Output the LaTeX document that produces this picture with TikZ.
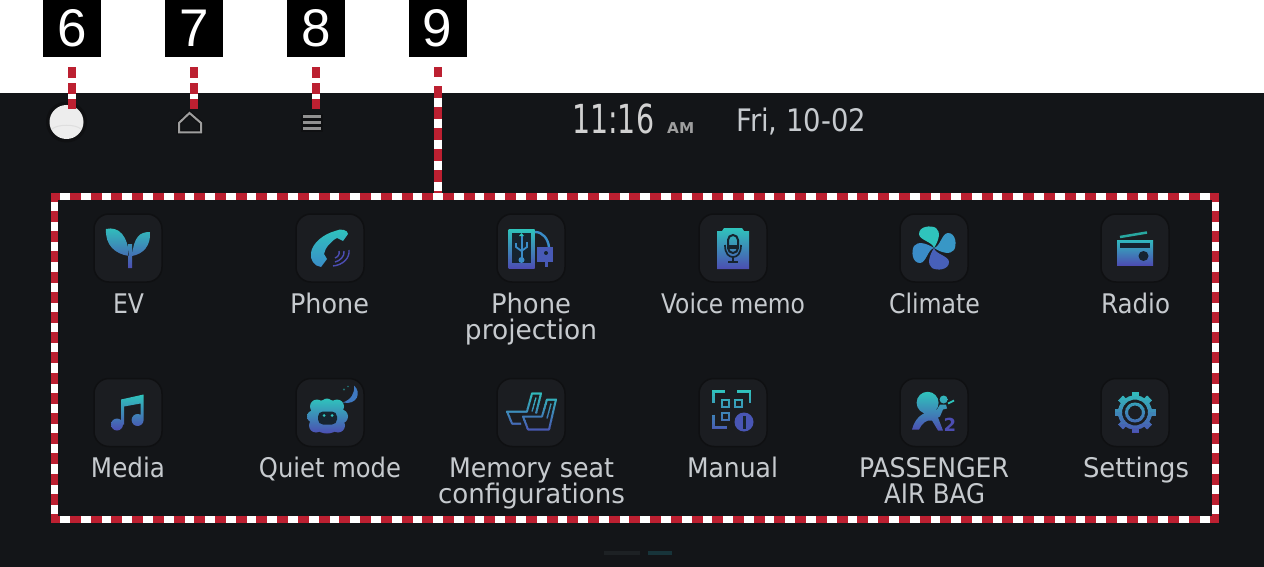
\documentclass[tikz,border=0pt]{standalone}
\usepackage{graphicx}
\usepackage{fontspec}
\setmainfont{DejaVu Sans}
\newfontfamily\numfont{Liberation Sans}
\definecolor{scr}{HTML}{131518}
\definecolor{boxc}{HTML}{1B1D21}
\definecolor{boxe}{HTML}{0F1012}
\definecolor{redc}{HTML}{BC2031}
\definecolor{txt}{HTML}{C6CACE}
\definecolor{icteal}{HTML}{2FC4BC}
\definecolor{icind}{HTML}{4C4DB2}
\definecolor{icmid}{HTML}{3A8CC8}
\definecolor{dk}{HTML}{16242F}
\definecolor{pagera}{HTML}{1D2124}
\definecolor{pagerb}{HTML}{17343A}
\tikzset{
  numbox/.style={fill=black,text=white,inner sep=0pt,minimum width=58pt,minimum height=57pt,font=\numfont\fontsize{53}{53}\selectfont},
  leaderbase/.style={white,line width=8pt,shorten <=10pt},
  leaderred/.style={redc,line width=8pt,shorten <=10pt},
  iconbox/.style={rectangle,rounded corners=15pt,fill=boxc,draw=boxe,line width=1.5pt,minimum width=68pt,minimum height=68pt,inner sep=0pt},
  lab/.style={text=txt,anchor=base,inner sep=0pt,font=\fontsize{27}{27}\selectfont},
  gr/.style={top color=icteal,bottom color=icind,draw=none},
  frameside/.style={redc,line width=7pt},
}
\newcommand{\lbl}[5]{\node[lab] (#1) at (#2,#3) {\resizebox{#4pt}{\height}{#5}};}
\newcommand{\gradstroke}[1]{\foreach \gi in {0,...,11}{\pgfmathtruncatemacro{\gp}{100-\gi*9}\colorlet{gc}{icteal!\gp!icind}\begin{scope}\clip (-42,{-24+\gi*4}) rectangle (42,{-24+\gi*4+4.3});#1\end{scope}}}
\newcommand{\fanblade}{(0,0) .. controls (-1,-6) and (-15,-8) .. (-15,-14) .. controls (-15,-22) and (-3,-23) .. (2,-20) .. controls (7,-16) and (5,-8) .. (0,0) -- cycle}
\begin{document}
\begin{tikzpicture}[x=1pt,y=-1pt]
\useasboundingbox (0,0) rectangle (1264,567);
\fill[white] (0,0) rectangle (1264,567);
\fill[scr] (0,93) rectangle (1264,567);

% top bar
\node[circle,fill=boxe,draw=none,minimum size=41pt,inner sep=0pt] (i6) at (66.5,122) {};
\node[circle,fill=white!93!black,minimum size=34pt,inner sep=0pt] (i6b) at (66.5,122) {};
\draw[white!87!black,line width=1pt] (52,129) .. controls (58,124) and (75,124) .. (81,129);
\draw[boxe,line width=4.5pt,line join=miter] (189.5,113) -- (201,123) -- (201,132.5) -- (179,132.5) -- (179,123) -- cycle;
\draw[white!62!black,line width=2pt] (189.5,113) -- (201,123) -- (201,132.5) -- (179,132.5) -- (179,123) -- cycle;
\coordinate (i7) at (194,109);
\fill[boxe] (301,114) rectangle (323,132);
\foreach \yy in {116.5,122.5,128.5}{\draw[white!57!black,line width=3pt] (303,\yy) -- (321,\yy);}
\coordinate (i8) at (316,109);
\coordinate (p6) at (72,109);

\node[text=white!82!black,anchor=base west,inner sep=0pt,font=\fontsize{40}{40}\selectfont] (clock) at (572,134) {\resizebox{82pt}{\height}{11:16}};
\node[text=white!62!black,anchor=base west,inner sep=0pt,font=\bfseries\fontsize{15}{15}\selectfont] (ampm) at (667,134) {\resizebox{27pt}{\height}{AM}};
\node[text=txt,anchor=base west,inner sep=0pt,font=\fontsize{31}{31}\selectfont] (date) at (736,132) {\resizebox{130pt}{\height}{Fri, 10-02}};

% icon boxes
\node[iconbox] (b1) at (128,248) {};
\node[iconbox] (b2) at (330,248) {};
\node[iconbox] (b3) at (531,248) {};
\node[iconbox] (b4) at (733,248) {};
\node[iconbox] (b5) at (934,248) {};
\node[iconbox] (b6) at (1135,248) {};
\node[iconbox] (b7) at (128,412.5) {};
\node[iconbox] (b8) at (330,412.5) {};
\node[iconbox] (b9) at (531,412.5) {};
\node[iconbox] (b10) at (733,412.5) {};
\node[iconbox] (b11) at (934,412.5) {};
\node[iconbox] (b12) at (1135,412.5) {};

% EV
\begin{scope}[shift={(128,248)}]
\path[gr] (-22,-19) .. controls (-9,-22) and (0,-12) .. (1,8) .. controls (-13,6) and (-23,-3) .. (-22,-19) -- cycle
  (22,-16) .. controls (12,-16) and (6,-12) .. (4,8) .. controls (15,6) and (23,-2) .. (22,-16) -- cycle
  (0,-4) rectangle (4,20);
\end{scope}
% Phone
\begin{scope}[shift={(330,248)}]
\path[top color=icteal,bottom color=icmid] (5,-17) .. controls (11,-20) and (18,-18) .. (18,-14) -- (13,-7) -- (7,-10) .. controls (1,-7) and (-5,0) .. (-6,6) -- (-3,11) -- (-9,19) .. controls (-16,18) and (-20,12) .. (-19,5) .. controls (-18,-5) and (-6,-14) .. (5,-17) -- cycle;
\draw[icind,line width=1.4pt] (9,3) .. controls (10,6) and (8,9) .. (5,10);
\draw[icind,line width=1.4pt] (14,3) .. controls (15,8) and (10,13) .. (5,14);
\draw[icind,line width=1.4pt] (19,2) .. controls (20,10) and (13,17) .. (3,18);
\end{scope}
% Phone projection
\begin{scope}[shift={(531,248)}]
\path[gr] (-22.5,-19) rectangle (3.5,20);
\fill[dk] (-19,-15) rectangle (0,15);
\draw[icmid,line width=2pt] (-9.5,-13) -- (-9.5,12);
\fill[icteal] (-12,-12) -- (-9.5,-15) -- (-7,-12) -- cycle;
\draw[icmid,line width=1.8pt] (-15,-5) -- (-15,-1) -- (-9.5,3) -- (-4,-1) -- (-4,-6);
\fill[icmid] (-9.5,12) circle[radius=3];
\draw[icmid,line width=2.4pt] (4,-16) .. controls (12,-16) and (17,-9) .. (18,-1);
\fill[icind!80!icmid] (6,-1) rectangle (22,14);
\fill[dk] (15,5) circle[radius=2];
\draw[icind!80!icmid,line width=3pt] (15,14) -- (15,19);
\end{scope}
% Voice memo
\begin{scope}[shift={(733,248)}]
\path[gr] (-16,-17) -- (-11,-17) -- (-9,-20) -- (9,-20) -- (11,-17) -- (16,-17) -- (16,21) -- (-16,21) -- cycle;
\draw[dk,line width=2pt,rounded corners=5pt] (-5,-13) rectangle (5,5);
\fill[dk] (-5,-3) rectangle (5,1);
\draw[dk,line width=1.7pt] (-8,-3) .. controls (-8,6) and (-4,9) .. (0,9) .. controls (4,9) and (8,6) .. (8,-3);
\draw[dk,line width=1.7pt] (0,9) -- (0,14) (-5,14) -- (5,14);
\end{scope}
% Climate
\begin{scope}[shift={(934,248)}]
\fill[icteal,rotate=0] \fanblade;
\fill[icmid!80!icteal,rotate=-90] \fanblade;
\fill[icind!70!icmid,rotate=180] \fanblade;
\fill[icmid,rotate=90] \fanblade;
\end{scope}
% Radio
\begin{scope}[shift={(1135,248)}]
\draw[icteal!85!black,line width=2.5pt] (-15,-11) -- (12,-15.5);
\path[top color=icteal!80!icmid,bottom color=icind] (-18,-8) rectangle (18,17);
\fill[dk] (-15,-5) rectangle (15,0);
\fill[dk] (8.5,8) circle[radius=5];
\end{scope}
% Media
\begin{scope}[shift={(128,412.5)}]
\path[gr] (-7,-13) -- (15.5,-18) -- (15.5,8) -- (12.5,8) -- (12.5,-9) -- (-4,-6) -- (-4,12) -- (-7,12) -- cycle
  (-11,12) circle[radius=6] (9.6,7.5) circle[radius=6];
\end{scope}
% Quiet mode
\begin{scope}[shift={(330,412.5)}]
\path[gr] (-3,4) circle[radius=17] (-3,-8) circle[radius=6] (7,-6) circle[radius=7] (11,4) circle[radius=7] (8,13) circle[radius=7] (-3,15) circle[radius=6] (-14,13) circle[radius=7] (-17,4) circle[radius=6] (-13,-6) circle[radius=7];
\fill[dk,rounded corners=5pt] (-12,-1) rectangle (7,12);
\fill[icteal] (-6,3) circle[radius=1.5] (2,3) circle[radius=1.5];
\fill[icmid!70!icind] (24,-27) .. controls (32,-20) and (27,-7) .. (13,-10) .. controls (21,-13) and (25,-19) .. (24,-27) -- cycle;
\fill[icteal!50!dk] (14,-23) circle[radius=1.2] (18,-26) circle[radius=.9];
\end{scope}
% Seats
\begin{scope}[shift={(531,412.5)}]
\gradstroke{\draw[gc,line width=2pt,line join=round] (-10,11) -- (-19,11) -- (-24,-1) -- (-4,-1) -- (1,-19) -- (10,-19) -- (5,1);
  \draw[gc,line width=2pt,line join=round] (-8,4) -- (-3,17) -- (18,17) -- (25,-13) -- (16,-13) -- (11,4) -- cycle;
  \draw[gc,line width=1.3pt] (5,-15) -- (1,-1) (20,-9) -- (16,6);}
\end{scope}
% Manual
\begin{scope}[shift={(733,412.5)}]
\gradstroke{\draw[gc,line width=2.2pt] (-19.6,-10) -- (-19.6,-21) -- (-8,-21);
  \draw[gc,line width=2.2pt] (4,-21) -- (17,-21) -- (17,-10);
  \draw[gc,line width=2.2pt] (-19.6,2) -- (-19.6,15) -- (-6.5,15);
  \draw[gc,line width=2pt] (-11.5,-13) rectangle (-4.5,-6);
  \draw[gc,line width=2pt] (1.5,-13) rectangle (8.5,-6);
  \draw[gc,line width=2pt] (-11.5,0.5) rectangle (-4.5,7.5);}
\fill[icind!85!icmid] (11,9.5) circle[radius=9.5];
\fill[dk] (9.5,3) rectangle (12.5,16);
\end{scope}
% Airbag
\begin{scope}[shift={(934,412.5)}]
\path[gr] (-6.4,-9.7) circle[radius=11] (9.6,-13) circle[radius=4]
 (-22,17) .. controls (-19,6) and (-12,0) .. (-5,0) -- (3,-3) -- (6,-8) -- (12,-8) -- (13,-4) -- (9,-3) -- (6,4) -- (4,5) -- (9,18) -- (4,18) -- (-2,8) .. controls (-8,7) and (-12,11) .. (-15,17) -- cycle;
\draw[icteal,line width=1.8pt] (14,-9) -- (20,-12);
\node[text=icind,inner sep=0pt,font=\bfseries\fontsize{18}{18}\selectfont] (two) at (16,12) {2};
\end{scope}
% Settings
\begin{scope}[shift={(1135,412.5)}]
\gradstroke{\draw[gc,line width=4pt] (0,0) circle[radius=15];
  \foreach \a in {0,45,...,315}{\draw[gc,line width=7pt] ({15*cos(\a)},{15*sin(\a)}) -- ({20.5*cos(\a)},{20.5*sin(\a)});}
  \draw[gc,line width=3pt] (0,0) circle[radius=8.5];}
\end{scope}

% labels
\lbl{l1}{128.5}{313}{31}{EV}
\lbl{l2}{329.5}{313}{79}{Phone}
\lbl{l3a}{531}{313}{80}{Phone}
\lbl{l3b}{531}{339}{132}{projection}
\lbl{l4}{733}{313}{144}{Voice memo}
\lbl{l5}{934.5}{313}{91}{Climate}
\lbl{l6}{1135.5}{313}{69}{Radio}
\lbl{l7}{128}{477}{74}{Media}
\lbl{l8}{330}{477}{142}{Quiet mode}
\lbl{l9a}{531.5}{477}{165}{Memory seat}
\lbl{l9b}{531.5}{503}{187}{configurations}
\lbl{l10}{732.5}{477}{91}{Manual}
\lbl{l11a}{934}{477}{150}{PASSENGER}
\lbl{l11b}{934.5}{503}{101}{AIR BAG}
\lbl{l12}{1136}{477}{106}{Settings}

% pager
\fill[pagera] (604,551) rectangle (640,555);
\fill[pagerb] (648,551) rectangle (672,555);

% number boxes
\node[numbox] (n6) at (72,28.5) {6};
\node[numbox] (n7) at (194,28.5) {7};
\node[numbox] (n8) at (316,28.5) {8};
\node[numbox] (n9) at (437.5,28.5) {9};

% dashed frame
\node[draw=white,line width=7pt,inner sep=0pt,outer sep=0pt,minimum width=1161pt,minimum height=323pt] (frame) at (635,358) {};
\coordinate (tl) at (51,196.5); \coordinate (tr) at (1219,196.5);
\coordinate (bl) at (51,519.5); \coordinate (br) at (1219,519.5);
\coordinate (lt) at (54.5,193); \coordinate (lb) at (54.5,523);
\coordinate (rt) at (1215.5,193); \coordinate (rb) at (1215.5,523);
\draw[frameside,dash pattern=on 11pt off 9.72pt,dash phase=1.72pt] (tl) -- (tr);
\draw[frameside,dash pattern=on 11pt off 9.72pt,dash phase=1.72pt] (bl) -- (br);
\draw[frameside,dash pattern=on 11pt off 9.2pt,dash phase=2.2pt] (lt) -- (lb);
\draw[frameside,dash pattern=on 11pt off 9.2pt,dash phase=2.2pt] (rt) -- (rb);

% leaders
\draw[leaderbase] (n6.south) -- (p6);
\draw[leaderred,dash pattern=on 10.5pt off 5.5pt] (n6.south) -- (p6);
\draw[leaderbase] (n7.south) -- (i7);
\draw[leaderred,dash pattern=on 10.5pt off 5.5pt] (n7.south) -- (i7);
\draw[leaderbase] (n8.south) -- (i8);
\draw[leaderred,dash pattern=on 10.5pt off 5.5pt] (n8.south) -- (i8);
\draw[leaderbase,shorten >=3.5pt] (n9.south) -- (n9.south |- frame.north);
\draw[leaderred,shorten >=3.5pt,dash pattern=on 12pt off 9pt,dash phase=2pt] (n9.south) -- (n9.south |- frame.north);
\end{tikzpicture}
\end{document}
